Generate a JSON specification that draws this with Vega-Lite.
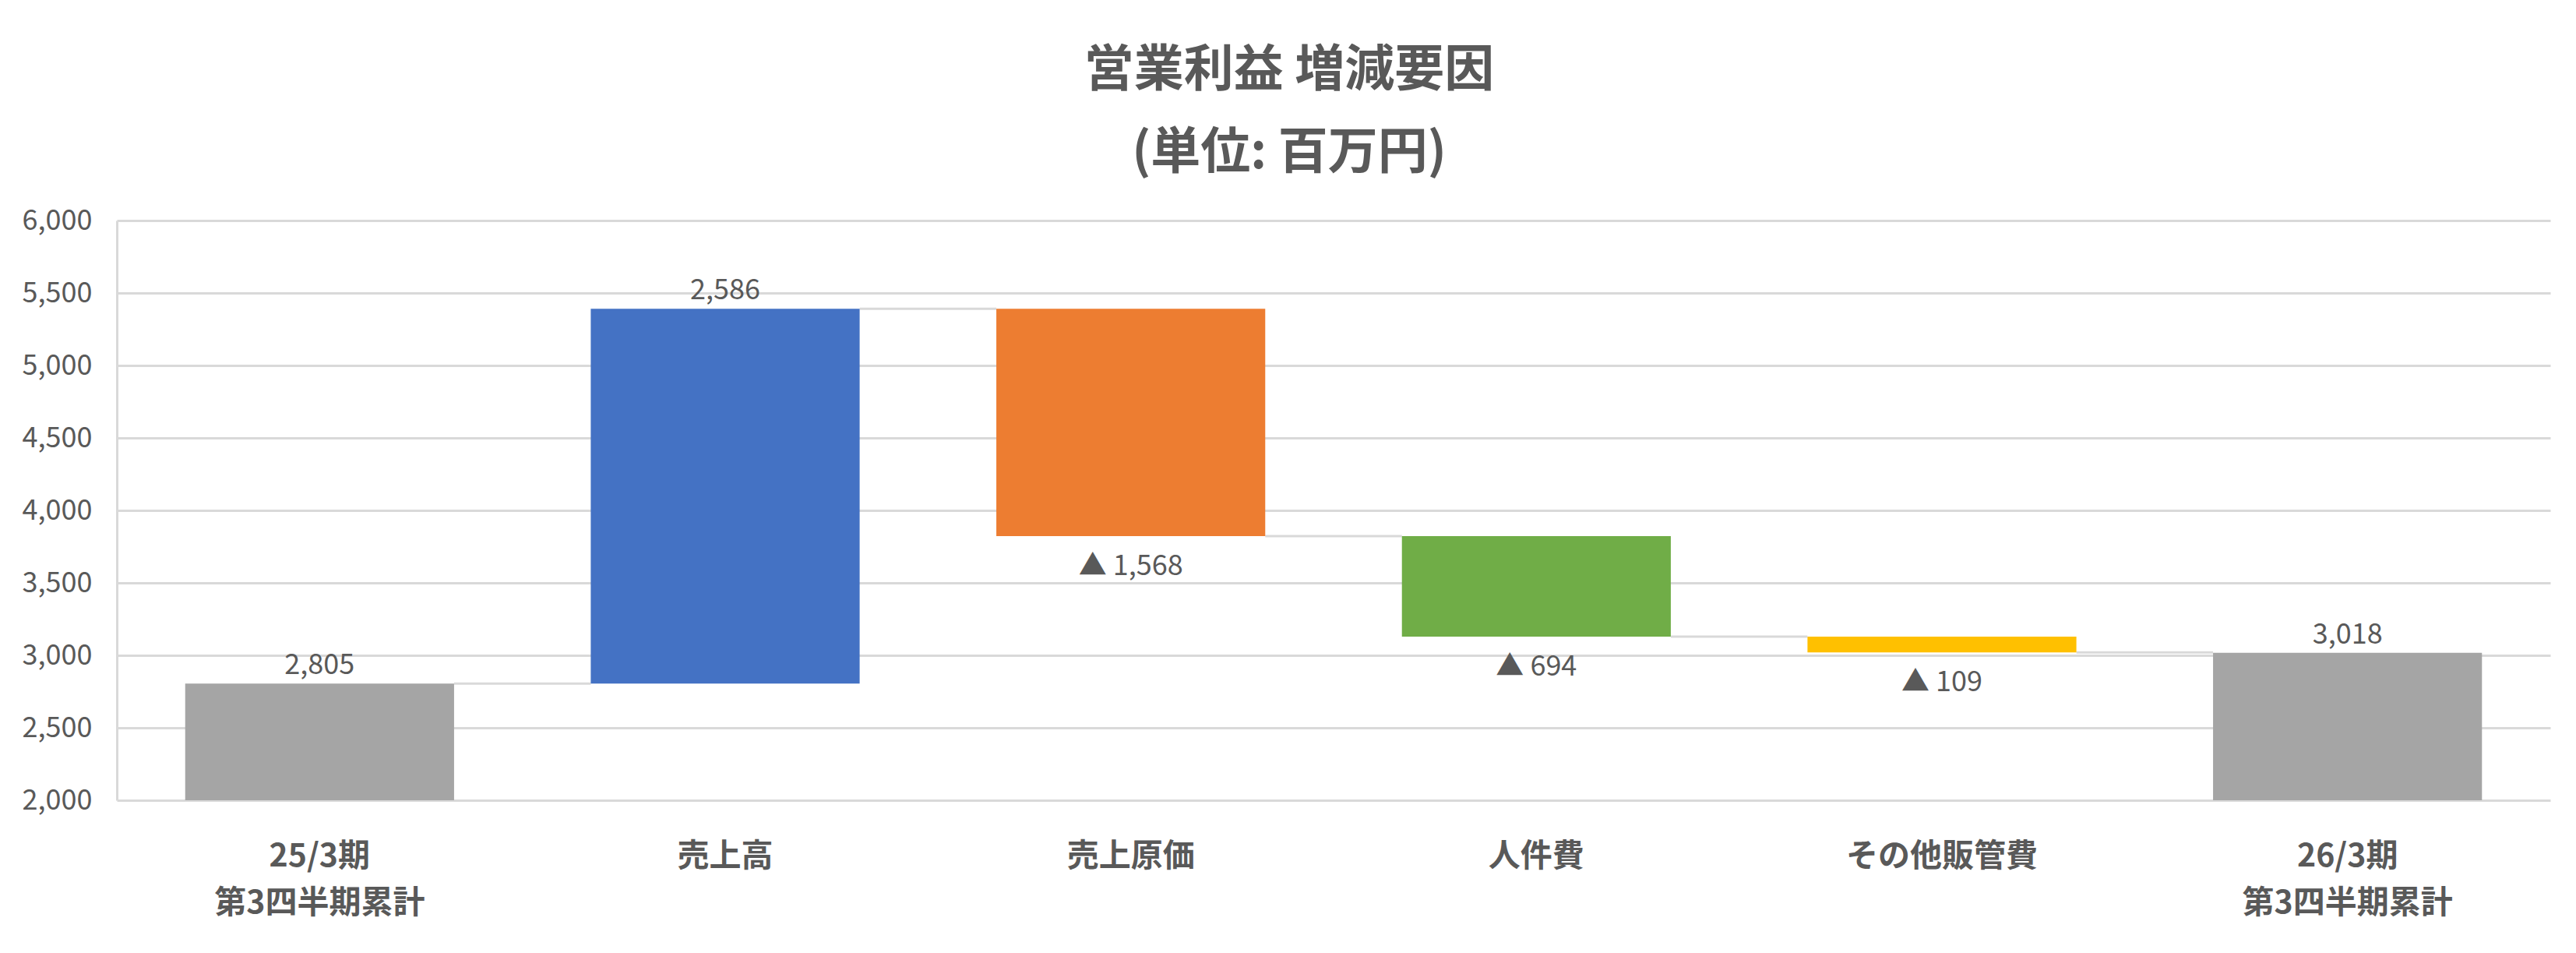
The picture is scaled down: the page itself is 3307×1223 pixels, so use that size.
{
  "$schema": "https://vega.github.io/schema/vega-lite/v6.json",
  "width": 3124,
  "height": 744,
  "padding": {"left": 0, "top": 59, "right": 33, "bottom": 20},
  "background": "white",
  "config": {
    "font": "Noto Sans CJK JP",
    "view": {"stroke": null},
    "axis": {"labelColor": "#595959", "labelFont": "Noto Sans CJK JP"}
  },
  "title": {
    "text": ["営業利益 増減要因", "(単位: 百万円)"],
    "fontSize": 64,
    "fontWeight": "bold",
    "color": "#595959",
    "lineHeight": 106,
    "anchor": "middle",
    "frame": "group",
    "dx": -57,
    "offset": 36
  },
  "data": {
    "values": [
      {"cat": "25/3期 第3四半期累計", "start": 0, "end": 2805, "label": "2,805", "pos": "above", "next": "売上高"},
      {"cat": "売上高", "start": 2805, "end": 5391, "label": "2,586", "pos": "above", "next": "売上原価"},
      {"cat": "売上原価", "start": 5391, "end": 3823, "label": "▲ 1,568", "pos": "below", "next": "人件費"},
      {"cat": "人件費", "start": 3823, "end": 3129, "label": "▲ 694", "pos": "below", "next": "その他販管費"},
      {"cat": "その他販管費", "start": 3129, "end": 3020, "label": "▲ 109", "pos": "below", "next": "26/3期 第3四半期累計"},
      {"cat": "26/3期 第3四半期累計", "start": 0, "end": 3018, "label": "3,018", "pos": "above", "next": null}
    ]
  },
  "encoding": {
    "x": {
      "field": "cat",
      "type": "nominal",
      "sort": null,
      "title": null,
      "scale": {"paddingInner": 0.337, "paddingOuter": 0.1685},
      "axis": {
        "labelAngle": 0,
        "labelExpr": "split(datum.label, ' ')",
        "labelFontSize": 41,
        "labelFontWeight": "bold",
        "labelLineHeight": 60,
        "labelPadding": 52,
        "labelBaseline": "top",
        "labelLimit": 1000,
        "ticks": false,
        "domain": false,
        "grid": false
      }
    }
  },
  "layer": [
    {
      "transform": [{"filter": "datum.next != null"}],
      "mark": {"type": "rule", "color": "#d9d9d9", "strokeWidth": 3},
      "encoding": {
        "x": {"field": "cat", "type": "nominal", "sort": null, "bandPosition": 1},
        "x2": {"field": "next", "bandPosition": 0},
        "y": {"field": "end", "type": "quantitative"}
      }
    },
    {
      "mark": {"type": "bar", "clip": true},
      "encoding": {
        "y": {
          "field": "start",
          "type": "quantitative",
          "title": null,
          "scale": {"domain": [2000, 6000], "nice": false, "zero": false},
          "axis": {
            "values": [2000, 2500, 3000, 3500, 4000, 4500, 5000, 5500, 6000],
            "format": ",.0f",
            "labelFontSize": 36,
            "labelPadding": 32,
            "minExtent": 150,
            "maxExtent": 150,
            "ticks": false,
            "domain": true,
            "domainColor": "#d9d9d9",
            "domainWidth": 3,
            "grid": true,
            "gridColor": "#d9d9d9",
            "gridWidth": 3
          }
        },
        "y2": {"field": "end"},
        "color": {
          "field": "cat",
          "type": "nominal",
          "legend": null,
          "scale": {
            "domain": ["25/3期 第3四半期累計", "売上高", "売上原価", "人件費", "その他販管費", "26/3期 第3四半期累計"],
            "range": ["#a5a5a5", "#4472c4", "#ed7d31", "#70ad47", "#ffc000", "#a5a5a5"]
          }
        }
      }
    },
    {
      "transform": [{"filter": "datum.pos == 'above'"}],
      "mark": {"type": "text", "fontSize": 36, "color": "#595959", "baseline": "bottom", "dy": -4},
      "encoding": {
        "y": {"field": "end", "type": "quantitative"},
        "text": {"field": "label"}
      }
    },
    {
      "transform": [{"filter": "datum.pos == 'below'"}],
      "mark": {"type": "text", "fontSize": 36, "color": "#595959", "baseline": "top", "dy": 22},
      "encoding": {
        "y": {"field": "end", "type": "quantitative"},
        "text": {"field": "label"}
      }
    }
  ]
}
